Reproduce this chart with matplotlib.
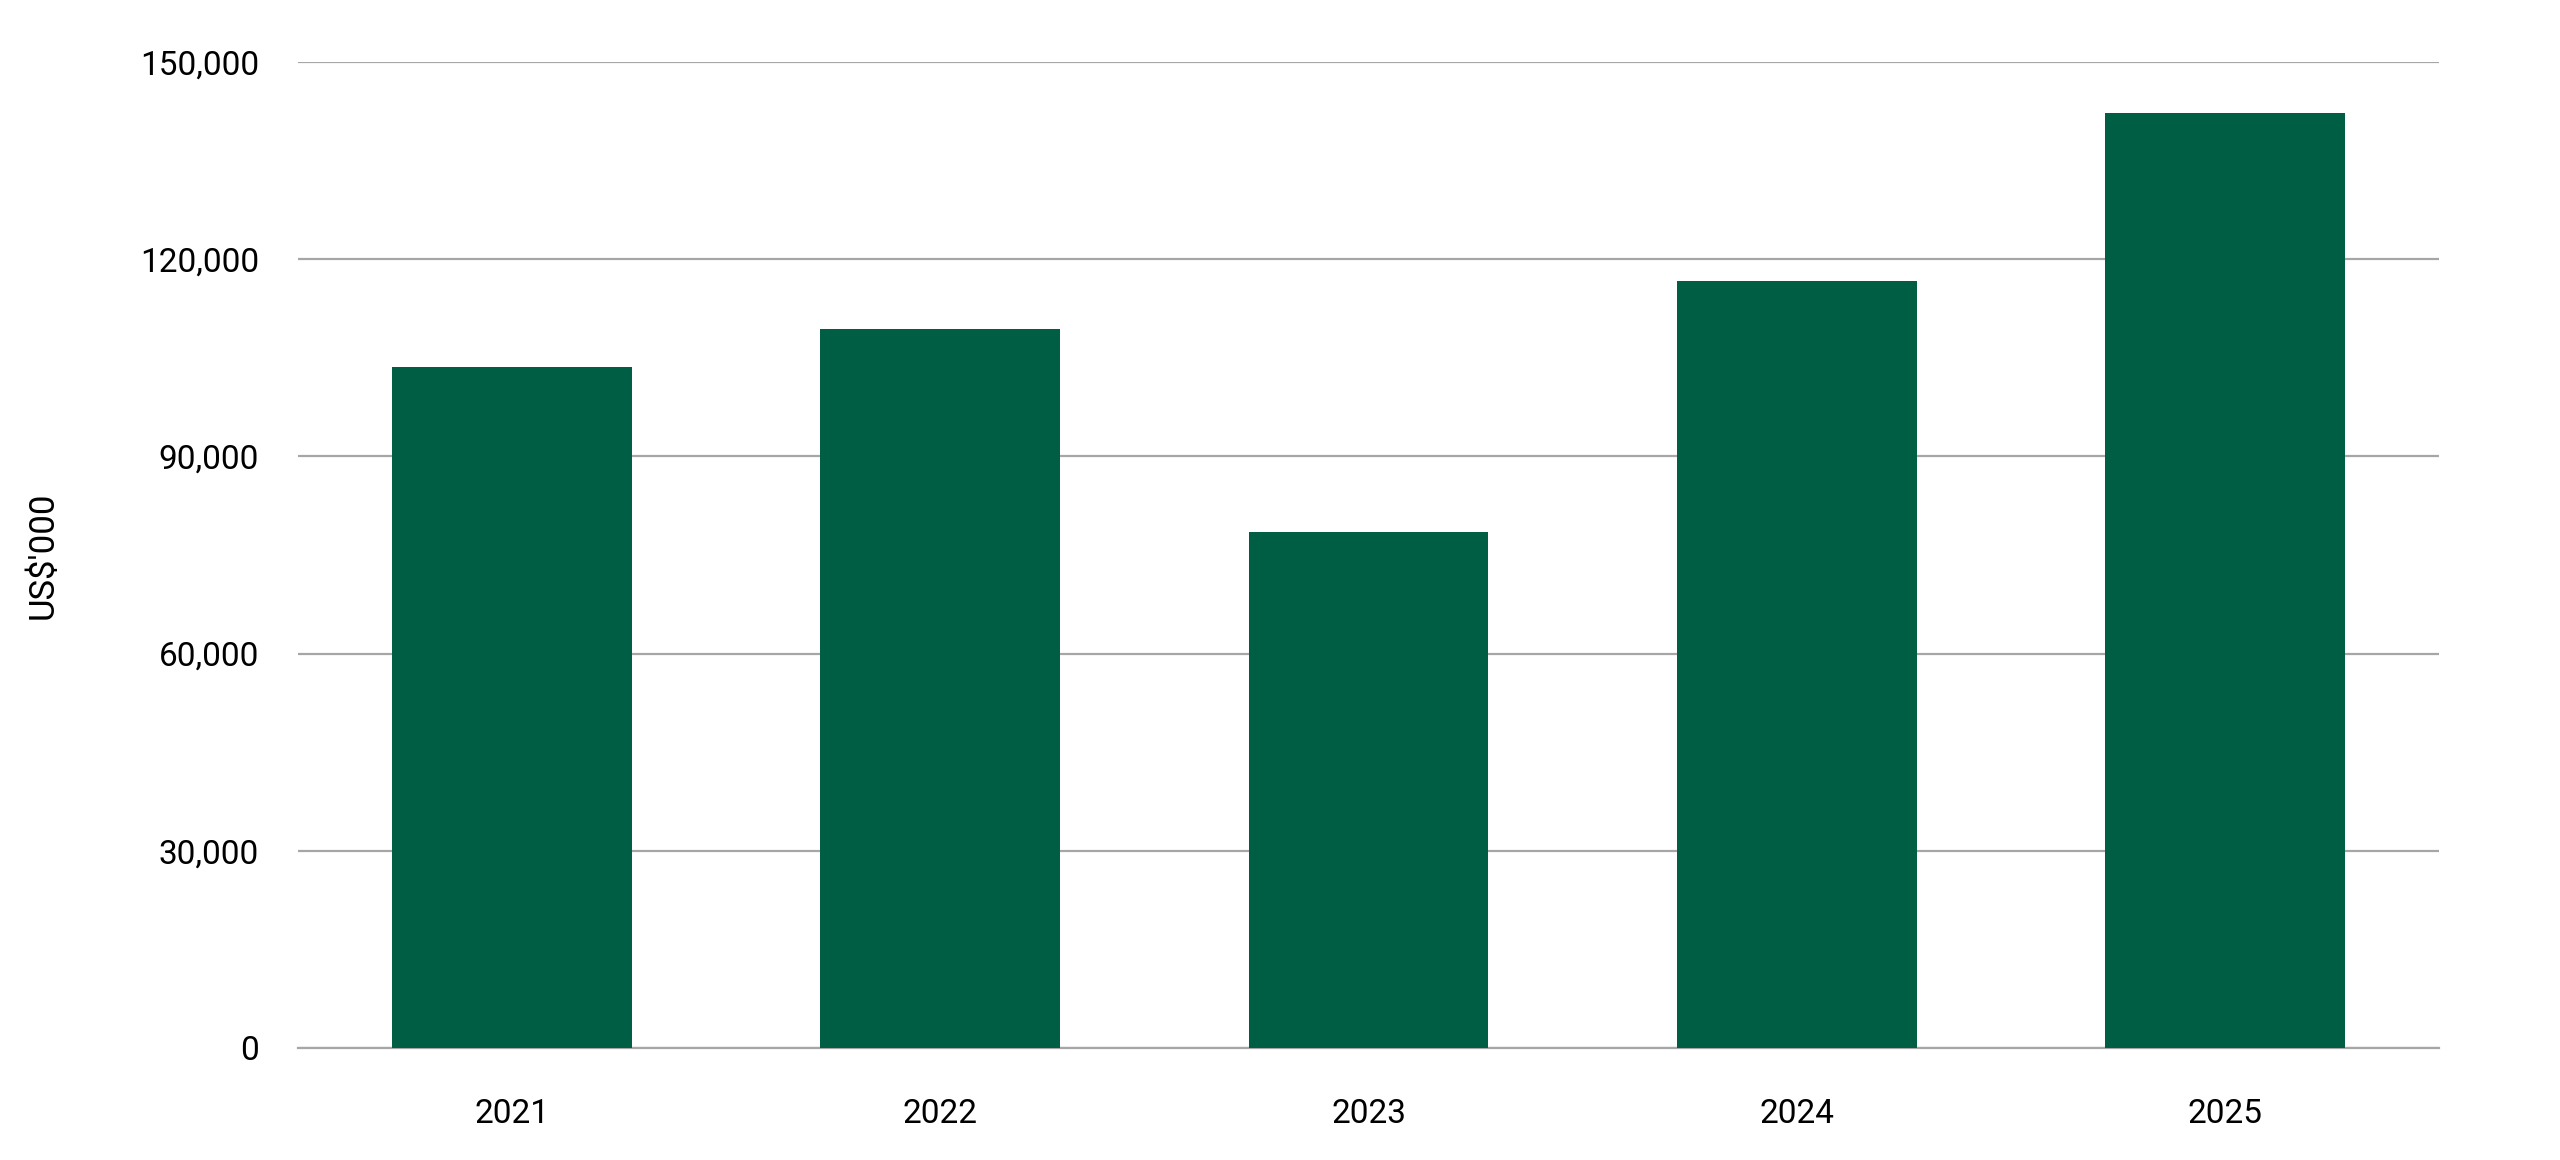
import matplotlib
matplotlib.use("Agg")
import matplotlib.pyplot as plt
from matplotlib.ticker import FuncFormatter

years = ["2021", "2022", "2023", "2024", "2025"]
values = [103600, 109300, 78500, 116600, 142200]
yticks = [0, 30000, 60000, 90000, 120000, 150000]

plt.rcParams['font.family'] = ['Roboto', 'DejaVu Sans']

fig = plt.figure(figsize=(25.6, 11.6), dpi=100)
ax = fig.add_axes([0.1164, 0.0966, 0.8363, 0.85])

ax.bar(years, values, width=0.56, color="#005E44", zorder=3)

ax.set_xlim(-0.5, len(years) - 0.5)
ax.set_ylim(0, 150000)
ax.set_yticks(yticks)
ax.yaxis.set_major_formatter(FuncFormatter(lambda v, p: f"{int(v):,}"))
ax.grid(axis="y", color="#A6A6A6", linewidth=1.6, zorder=0)
ax.set_axisbelow(True)

for s in ["top", "right", "left"]:
    ax.spines[s].set_visible(False)
ax.spines["bottom"].set_color("#A6A6A6")
ax.spines["bottom"].set_linewidth(1.6)

ax.tick_params(axis="y", length=0, pad=28, labelsize=24)
ax.tick_params(axis="x", length=0, pad=36, labelsize=24)
ax.set_ylabel("US$'000", fontsize=25, labelpad=58)

fig.savefig("out.png", dpi=100, facecolor="white")
